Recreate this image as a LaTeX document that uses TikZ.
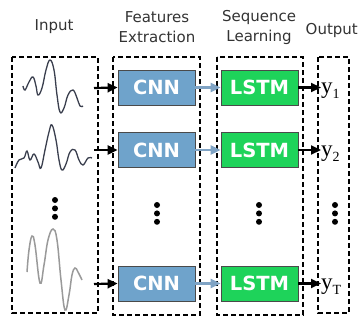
\documentclass[tikz,border=0pt]{standalone}
\usepackage{fontspec}
\setmainfont{DejaVu Sans}
\newfontfamily\outfont{Liberation Serif}
\usepackage{xcolor}
\usepackage{tikz}
\usetikzlibrary{positioning,arrows.meta,calc}
\definecolor{CnnBlue}{HTML}{6FA3CB}
\definecolor{LstmGreen}{HTML}{1ED35A}
\definecolor{BoxEdge}{HTML}{4A4A4A}
\definecolor{LinkBlue}{HTML}{7FA3C4}
\definecolor{WaveDark}{HTML}{3A3F4E}
\definecolor{WaveLight}{HTML}{9A9A9A}

\newcommand{\yout}[1]{{\outfont\fontsize{23pt}{23pt}\selectfont y\raisebox{-0.45ex}{\fontsize{14pt}{14pt}\selectfont #1}}}

\begin{document}
\begin{tikzpicture}[x=1pt,y=-1pt,
    stagebox/.style={draw=black, line width=1.5pt, dash pattern=on 5pt off 3pt},
    cnnbox/.style={draw=BoxEdge, fill=CnnBlue, line width=0.8pt, minimum width=77pt,
        minimum height=35pt, text=white, font=\bfseries\fontsize{19.5pt}{19.5pt}\selectfont},
    lstmbox/.style={cnnbox, fill=LstmGreen},
    title/.style={align=center, font=\fontsize{15pt}{20pt}\selectfont, text=black!80},
    feed/.style={-{Triangle[length=10pt,width=9pt]}, line width=2.2pt, black},
    link/.style={-{Triangle[length=10pt,width=9pt]}, line width=2.4pt, LinkBlue},
    vdots/.style={circle, fill=black, inner sep=0pt, minimum size=6pt}]
  \useasboundingbox (0,0) rectangle (359,329);

  % titles
  \node[title] (tin)  at (54,27) {Input};
  \node[title] (tfe)  at (157,27) {Features\\Extraction};
  \node[title] (tsl)  at (259,27) {Sequence\\Learning};
  \node[title, inner xsep=0pt, anchor=east] (tout) at (358,30) {Output};

  % stage frames
  \draw[stagebox] (12,57) rectangle (98,313);
  \draw[stagebox] (113,57) rectangle (200,315);
  \draw[stagebox] (217,57) rectangle (303,315);
  \draw[stagebox] (318,57) rectangle (349,313);

  % input signals
  \draw[WaveDark, line width=1.3pt] plot[smooth, tension=0.7] coordinates {
    (23,86) (25,90) (29,82) (33,77) (36,86) (38,95) (42,88) (46,70) (50,60)
    (54,70) (57,95) (60,112) (64,108) (68,95) (73,90) (77,98) (80,106) (83,106)};
  \draw[WaveDark, line width=1.3pt] plot[smooth, tension=0.7] coordinates {
    (15,168) (19,160) (24,158) (27,151) (30,160) (34,154) (38,162) (41,168)
    (45,150) (49,132) (52,125) (56,140) (59,160) (62,170) (66,164) (70,152)
    (75,150) (79,160) (83,165) (88,158) (92,158)};
  \draw[WaveLight, line width=1.5pt] plot[smooth, tension=0.7] coordinates {
    (27,272) (29,250) (32,236) (35,245) (40,283) (44,265) (48,240) (53,229)
    (57,240) (61,280) (65,310) (69,295) (72,275) (75,268) (78,272) (82,280)};

  \coordinate (w1) at (94,88);
  \coordinate (w2) at (94,150);
  \coordinate (w3) at (94,284);

  % CNN and LSTM rows
  \node[cnnbox]  (cnn1)  at (156.5,87.5)  {CNN};
  \node[cnnbox]  (cnn2)  at (156.5,150)   {CNN};
  \node[cnnbox]  (cnn3)  at (156.5,283.5) {CNN};
  \node[lstmbox] (lstm1) at (259.5,87.5)  {LSTM};
  \node[lstmbox] (lstm2) at (259.5,150)   {LSTM};
  \node[lstmbox] (lstm3) at (259.5,283.5) {LSTM};

  % outputs
  \node[anchor=west, inner sep=0pt] (y1) at (321,91)  {\yout{1}};
  \node[anchor=west, inner sep=0pt] (y2) at (321,154) {\yout{2}};
  \node[anchor=west, inner sep=0pt] (y3) at (321,287) {\yout{T}};

  % connections
  \foreach \i in {1,2,3} {
    \draw[feed] (w\i) -- (cnn\i.west);
    \draw[link] (cnn\i.east) -- (lstm\i.west);
    \draw[feed] (lstm\i.east) -- (lstm\i.east -| y\i.west);
  }

  % ellipses
  \foreach \x/\y [count=\k] in {55/200,157/205,259/205,335/205} {
    \node[vdots] (da\k) at (\x,\y) {};
    \node[vdots, below=2pt of da\k] (db\k) {};
    \node[vdots, below=2pt of db\k] (dc\k) {};
  }
\end{tikzpicture}
\end{document}
